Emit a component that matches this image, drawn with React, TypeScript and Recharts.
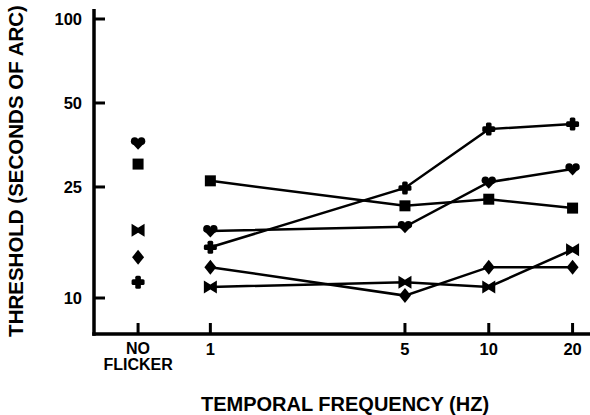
import { ComposedChart, Line, Scatter, XAxis, YAxis, Label } from 'recharts'

// x positions (Hz) on a log axis; NO FLICKER is parked left of 1 Hz
const FREQS = [1, 5, 10, 20]
const NO_FLICKER_X = 0.55
const X_TICKS = [NO_FLICKER_X, 1, 5, 10, 20]
const Y_TICKS = [10, 25, 50, 100]
const X_DOMAIN = [0.382, 23.1]
const Y_DOMAIN = [7.43, 108.6]

// thresholds (seconds of arc) at 1, 5, 10, 20 Hz + the no-flicker value
const heartVals = [17.4, 18.0, 26.0, 29.0]
const heartNF = 35.9
const squareVals = [26.3, 21.4, 22.6, 21.0]
const squareNF = 30.2
const crossVals = [15.2, 24.8, 40.3, 42.0]
const crossNF = 11.4
const bowtieVals = [10.95, 11.4, 10.95, 14.9]
const bowtieNF = 17.5
const diamondVals = [12.9, 10.2, 12.9, 12.9]
const diamondNF = 14.0

const FONT = '"Liberation Sans", Arial, Helvetica, sans-serif'
const INK = '#000'

// plot box: left 94, top 9, right 590, bottom 334
const W = 590
const H = 415
const MARGIN = { top: 9, right: 0, bottom: 0, left: 0 }
const Y_AXIS_W = 94
const X_AXIS_H = 81
const PLOT_L = MARGIN.left + Y_AXIS_W
const PLOT_T = MARGIN.top
const PLOT_R = W - MARGIN.right
const PLOT_B = H - MARGIN.bottom - X_AXIS_H
const AXIS_W = 3.5

const toPoints = (vals: number[]) => FREQS.map((f, i) => ({ x: f, y: vals[i] }))

type Mk = { cx?: number; cy?: number }

const Heart = ({ cx = 0, cy = 0 }: Mk) => (
  <g fill={INK}>
    <circle cx={cx - 3.4} cy={cy - 2} r={3.8} />
    <circle cx={cx + 3.4} cy={cy - 2} r={3.8} />
    <polygon points={`${cx - 7},${cy - 1} ${cx + 7},${cy - 1} ${cx},${cy + 6.5}`} />
  </g>
)
const Square = ({ cx = 0, cy = 0 }: Mk) => <rect x={cx - 5.5} y={cy - 5.5} width={11} height={11} fill={INK} />
const Cross = ({ cx = 0, cy = 0 }: Mk) => (
  <g fill={INK}>
    <rect x={cx - 6.5} y={cy - 2.8} width={13} height={5.6} rx={1.5} />
    <rect x={cx - 2.8} y={cy - 6.5} width={5.6} height={13} rx={1.5} />
  </g>
)
const Bowtie = ({ cx = 0, cy = 0 }: Mk) => (
  <polygon
    fill={INK}
    points={`${cx - 6.5},${cy - 6.5} ${cx},${cy - 2.5} ${cx + 6.5},${cy - 6.5} ${cx + 6.5},${cy + 6.5} ${cx},${cy + 2.5} ${cx - 6.5},${cy + 6.5}`}
  />
)
const Diamond = ({ cx = 0, cy = 0 }: Mk) => (
  <polygon fill={INK} points={`${cx},${cy - 7.5} ${cx + 6},${cy} ${cx},${cy + 7.5} ${cx - 6},${cy}`} />
)

const SERIES = [
  { name: 'heart', vals: heartVals, nf: heartNF, Mark: Heart },
  { name: 'square', vals: squareVals, nf: squareNF, Mark: Square },
  { name: 'cross', vals: crossVals, nf: crossNF, Mark: Cross },
  { name: 'bowtie', vals: bowtieVals, nf: bowtieNF, Mark: Bowtie },
  { name: 'diamond', vals: diamondVals, nf: diamondNF, Mark: Diamond },
]

const XTick = (props: any) => {
  const { x, y, payload } = props
  const isNF = payload.value === NO_FLICKER_X
  return (
    <g>
      <line x1={x} x2={x} y1={y} y2={y - 11} stroke={INK} strokeWidth={3} />
      {isNF ? (
        <text x={x} textAnchor="middle" fontFamily={FONT} fontWeight="bold" fontSize={16} fill={INK}>
          <tspan x={x} y={y + 20}>NO</tspan>
          <tspan x={x} y={y + 36}>FLICKER</tspan>
        </text>
      ) : (
        <text x={x} y={y + 21} textAnchor="middle" fontFamily={FONT} fontWeight="bold" fontSize={16.5} fill={INK}>
          {payload.value}
        </text>
      )}
    </g>
  )
}

const YTick = (props: any) => {
  const { x, y, payload } = props
  return (
    <g>
      <line x1={x} x2={x + 11} y1={y} y2={y} stroke={INK} strokeWidth={3} />
      <text x={x - 12} y={y + 6} textAnchor="end" fontFamily={FONT} fontWeight="bold" fontSize={16.5} fill={INK}>
        {payload.value}
      </text>
    </g>
  )
}

export default function App() {
  return (
    <div>
      <style>{'body{margin:0;background:#fff}'}</style>
      <ComposedChart width={W} height={H} margin={MARGIN}>
        <XAxis
          type="number"
          dataKey="x"
          scale="log"
          domain={X_DOMAIN}
          allowDataOverflow
          ticks={X_TICKS}
          interval={0}
          height={X_AXIS_H}
          tickSize={0}
          tickMargin={0}
          tickLine={false}
          tick={<XTick />}
          axisLine={false}
        >
          <Label
            content={() => (
              <g>
                <rect x={PLOT_L - AXIS_W / 2} y={PLOT_B - AXIS_W / 2} width={PLOT_R - PLOT_L + AXIS_W / 2} height={AXIS_W} fill={INK} />
                <text
                  x={(PLOT_L + PLOT_R) / 2 + 3}
                  y={H - 4}
                  textAnchor="middle"
                  fontFamily={FONT}
                  fontWeight="bold"
                  fontSize={20}
                  fill={INK}
                >
                  TEMPORAL FREQUENCY (HZ)
                </text>
              </g>
            )}
          />
        </XAxis>
        <YAxis
          type="number"
          scale="log"
          domain={Y_DOMAIN}
          allowDataOverflow
          ticks={Y_TICKS}
          interval={0}
          width={Y_AXIS_W}
          tickSize={0}
          tickMargin={0}
          tickLine={false}
          tick={<YTick />}
          axisLine={false}
        >
          <Label
            content={() => (
              <g>
                <rect x={PLOT_L - AXIS_W / 2} y={PLOT_T} width={AXIS_W} height={PLOT_B - PLOT_T + AXIS_W / 2} fill={INK} />
                <text
                  x={23}
                  y={171}
                  transform="rotate(-90 23 171)"
                  textAnchor="middle"
                  fontFamily={FONT}
                  fontWeight="bold"
                  fontSize={20.5}
                  fill={INK}
                >
                  THRESHOLD (SECONDS OF ARC)
                </text>
              </g>
            )}
          />
        </YAxis>
        {SERIES.map(s => (
          <Line
            key={s.name}
            data={toPoints(s.vals)}
            dataKey="y"
            stroke={INK}
            strokeWidth={2.5}
            dot={(p: any) => <s.Mark key={`${s.name}-${p.index}`} cx={p.cx} cy={p.cy} />}
            activeDot={false}
            isAnimationActive={false}
          />
        ))}
        {SERIES.map(s => (
          <Scatter
            key={`${s.name}-nf`}
            data={[{ x: NO_FLICKER_X, y: s.nf }]}
            dataKey="y"
            shape={(p: any) => <s.Mark cx={p.cx} cy={p.cy} />}
            isAnimationActive={false}
          />
        ))}
      </ComposedChart>
    </div>
  )
}
